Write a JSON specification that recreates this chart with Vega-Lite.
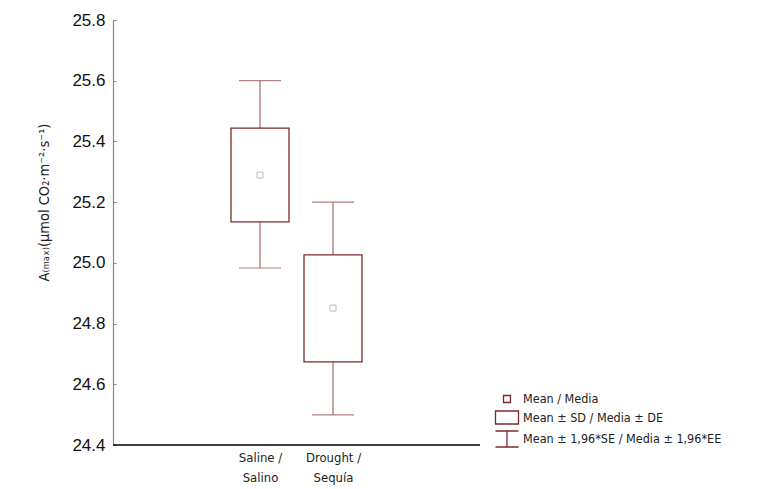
{
  "$schema": "https://vega.github.io/schema/vega-lite/v6.json",
  "width": 367,
  "height": 425,
  "autosize": {"type": "none"},
  "padding": {"left": 113, "top": 20, "right": 277, "bottom": 44},
  "background": "white",
  "config": {"view": {"stroke": null}},
  "datasets": {
    "main": [
      {"group": "Saline / Salino", "mean": 25.289, "sd_low": 25.135, "sd_high": 25.444, "ci_low": 24.983, "ci_high": 25.6},
      {"group": "Drought / Sequía", "mean": 24.851, "sd_low": 24.674, "sd_high": 25.026, "ci_low": 24.499, "ci_high": 25.2}
    ],
    "legend": [
      {"item": "Mean / Media"},
      {"item": "Mean ± SD / Media ± DE"},
      {"item": "Mean ± 1,96*SE / Media ± 1,96*EE"}
    ]
  },
  "layer": [
    {
      "data": {"name": "main"},
      "encoding": {
        "x": {
          "field": "group",
          "type": "nominal",
          "sort": null,
          "scale": {"type": "point", "padding": 0, "range": [147, 220]},
          "axis": {
            "title": null,
            "labelAngle": 0,
            "ticks": false,
            "domain": false,
            "labelFont": "DejaVu Sans Condensed",
            "labelFontSize": 13,
            "labelColor": "#222222",
            "labelPadding": 6,
            "labelLineHeight": 20,
            "labelExpr": "[split(datum.label, ' / ')[0] + ' /', split(datum.label, ' / ')[1]]"
          }
        }
      },
      "layer": [
        {
          "mark": {"type": "rule", "color": "#8e4c4c", "strokeWidth": 1},
          "encoding": {
            "y": {
              "field": "ci_low",
              "type": "quantitative",
              "scale": {"domain": [24.4, 25.8], "nice": false, "zero": false},
              "axis": {
                "title": "A₍ₘₐₓ₎(µmol CO₂·m⁻²·s⁻¹)",
                "values": [24.4, 24.6, 24.8, 25.0, 25.2, 25.4, 25.6, 25.8],
                "format": ".1f",
                "grid": false,
                "domainColor": "#888888",
                "domainWidth": 1.2,
                "tickColor": "#888888",
                "tickSize": -3,
                "labelFont": "Liberation Sans",
                "labelFontSize": 17,
                "labelColor": "#111111",
                "labelPadding": 11,
                "titleFont": "DejaVu Sans Condensed",
                "titleFontSize": 14.5,
                "titleFontWeight": "normal",
                "titleColor": "#222222",
                "titlePadding": 20,
                "titleY": 182
              }
            },
            "y2": {"field": "ci_high"}
          }
        },
        {
          "mark": {"type": "tick", "color": "#8e4c4c", "size": 42, "thickness": 1.2},
          "encoding": {"y": {"field": "ci_high", "type": "quantitative"}}
        },
        {
          "mark": {"type": "tick", "color": "#8e4c4c", "size": 42, "thickness": 1.2},
          "encoding": {"y": {"field": "ci_low", "type": "quantitative"}}
        },
        {
          "mark": {"type": "bar", "size": 58, "fill": "white", "stroke": "#7a2a2a", "strokeWidth": 1.3},
          "encoding": {
            "y": {"field": "sd_low", "type": "quantitative"},
            "y2": {"field": "sd_high"}
          }
        },
        {
          "mark": {"type": "point", "shape": "square", "filled": false, "fill": "white", "stroke": "#b09a9a", "strokeWidth": 1, "size": 36},
          "encoding": {"y": {"field": "mean", "type": "quantitative"}}
        }
      ]
    },
    {
      "data": {"name": "main"},
      "mark": {"type": "rule", "color": "#000000", "strokeWidth": 1.2},
      "encoding": {"y": {"datum": 24.4, "type": "quantitative"}}
    },
    {
      "data": {"name": "legend"},
      "mark": {"type": "point", "filled": false, "opacity": 0, "stroke": "#7a2a2a", "strokeWidth": 1.3},
      "encoding": {
        "shape": {
          "field": "item",
          "type": "nominal",
          "sort": null,
          "scale": {
            "range": [
              "M-0.35,-0.35H0.35V0.35H-0.35Z",
              "M-1.15,-0.65H1.15V0.65H-1.15Z",
              "M-1.15,-0.8H1.15M0,-0.8V0.8M-1.15,0.8H1.15"
            ]
          },
          "legend": {
            "title": null,
            "orient": "none",
            "legendX": 383,
            "legendY": 368,
            "padding": 0,
            "symbolSize": 400,
            "rowPadding": 0.5,
            "labelOffset": 5,
            "labelLimit": 400,
            "labelFont": "DejaVu Sans Condensed",
            "labelFontSize": 12.5,
            "labelColor": "#222222",
            "symbolFillColor": "white",
            "symbolStrokeColor": "#7a2a2a",
            "symbolStrokeWidth": 1.3,
            "symbolOpacity": 1
          }
        }
      }
    }
  ]
}
